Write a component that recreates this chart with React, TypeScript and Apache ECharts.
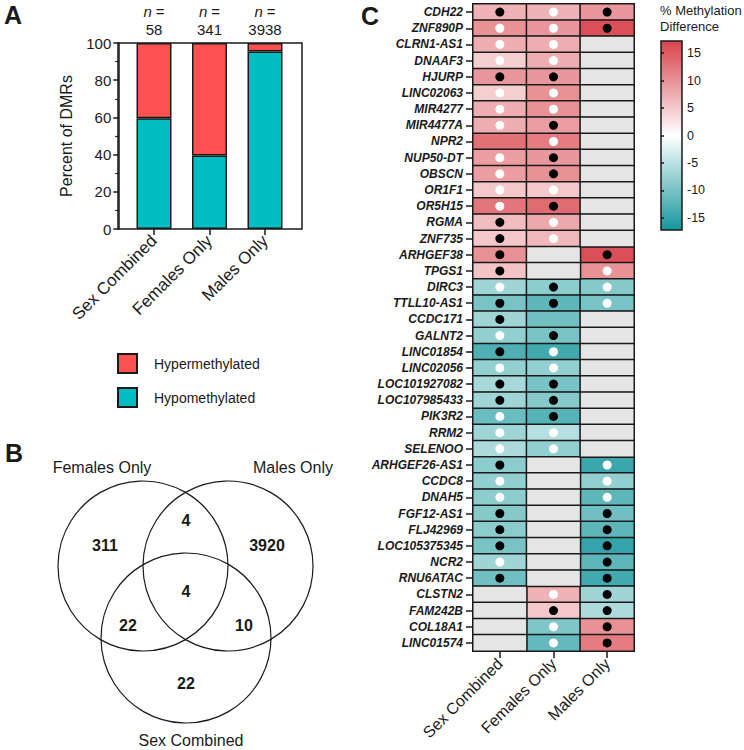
import React, { useEffect, useRef } from 'react';
import * as echarts from 'echarts';

const FONT = 'Arial, "Liberation Sans", Helvetica, sans-serif';
const INK = '#1a1a1a';
const RED_BAR = '#FF5151';
const TEAL_BAR = '#04BDC3';
const RED_END = '#D8434B';
const TEAL_END = '#15979C';
const NA_COLOR = '#E5E5E5';

// Panel A
const BAR_CATEGORIES = ['Sex Combined', 'Females Only', 'Males Only'];
const BAR_N = [58, 341, 3938];
const HYPO_PCT = [59.5, 39.5, 95.4];
const HYPER_PCT = [40.5, 60.5, 4.6];
const LEGEND_NAMES = ['Hypermethylated', 'Hypomethylated'];

// Panel B
const VENN_SETS = ['Females Only', 'Males Only', 'Sex Combined'];
const VENN_COUNTS = { fOnly: 311, fm: 4, mOnly: 3920, all: 4, fs: 22, ms: 10, sOnly: 22 };

// Panel C
const HEAT_COLUMNS = ['Sex Combined', 'Females Only', 'Males Only'];
const GENES = ['CDH22', 'ZNF890P', 'CLRN1-AS1', 'DNAAF3', 'HJURP', 'LINC02063', 'MIR4277', 'MIR4477A', 'NPR2', 'NUP50-DT', 'OBSCN', 'OR1F1', 'OR5H15', 'RGMA', 'ZNF735', 'ARHGEF38', 'TPGS1', 'DIRC3', 'TTLL10-AS1', 'CCDC171', 'GALNT2', 'LINC01854', 'LINC02056', 'LOC101927082', 'LOC107985433', 'PIK3R2', 'RRM2', 'SELENOO', 'ARHGEF26-AS1', 'CCDC8', 'DNAH5', 'FGF12-AS1', 'FLJ42969', 'LOC105375345', 'NCR2', 'RNU6ATAC', 'CLSTN2', 'FAM242B', 'COL18A1', 'LINC01574'];
const DIFF_SC = [7, 10, 7.5, 4.5, 9.5, 4.5, 7.5, 7.5, 13, 9, 9, 5, 12.5, 6, 5, 10, 5.5, -7, -10, -7, -8, -13, -8, -6.5, -7, -11, -7, -6, -8.5, -8, -8.5, -9, -8.5, -10, -7, -10.5, null, null, null, null];
const DIFF_FO = [7, 9.5, 7.5, 7.5, 9.5, 10, 10, 9, 12, 9.5, 10, 5, 13.5, 8, 6.5, null, null, -8.5, -12, -10.5, -10, -14, -8, -10, -9, -12.5, -5.5, -8, null, null, null, null, null, null, null, null, 7, 5, -9.5, -11.5];
const DIFF_MO = [9.5, 16, null, null, null, null, null, null, null, null, null, null, null, null, null, 16, 10, -9, -10, null, null, null, null, null, null, null, null, null, -14.5, -8, -12, -10.5, -12, -15, -12, -14, -7, -6, 10, 12];
const DOT_SC = ['B', 'W', 'W', 'W', 'B', 'W', 'W', 'W', '', 'W', 'W', 'W', 'W', 'B', 'B', 'B', 'B', 'W', 'B', 'B', 'W', 'B', 'W', 'B', 'B', 'W', 'W', 'W', 'B', 'W', 'W', 'B', 'B', 'B', 'W', 'B', '', '', '', ''];
const DOT_FO = ['W', 'W', 'W', 'W', 'B', 'W', 'W', 'B', 'W', 'B', 'B', 'W', 'B', 'W', 'W', '', '', 'B', 'B', '', 'B', 'W', 'W', 'B', 'B', 'B', 'W', 'W', '', '', '', '', '', '', '', '', 'W', 'B', 'W', 'W'];
const DOT_MO = ['B', 'B', '', '', '', '', '', '', '', '', '', '', '', '', '', 'B', 'W', 'W', 'W', '', '', '', '', '', '', '', '', '', 'W', 'W', 'W', 'B', 'B', 'B', 'B', 'B', 'B', 'B', 'B', 'B'];
const COLORBAR_MIN = -17.2;
const COLORBAR_MAX = 17.2;
const COLORBAR_TICKS = [-15, -10, -5, 0, 5, 10, 15];

function buildOption() {
  const diffs = [DIFF_SC, DIFF_FO, DIFF_MO];
  const dots = [DOT_SC, DOT_FO, DOT_MO];
  const heatData: any[] = [];
  const naData: any[] = [];
  const dotData: any[] = [];
  diffs.forEach((col, ci) => {
    col.forEach((v, ri) => {
      if (v === null) naData.push([ci, ri, 0]);
      else heatData.push([ci, ri, v]);
      const d = dots[ci][ri];
      if (d) dotData.push({ value: [ci, ri], itemStyle: { color: d === 'B' ? '#000000' : '#ffffff', opacity: 1 } });
    });
  });

  const txt = (text: string, x: number, y: number, font: string, align = 'center', vAlign = 'middle', extra: any = {}) => ({
    type: 'text',
    silent: true,
    style: { text, x, y, font, fill: INK, textAlign: align, textVerticalAlign: vAlign, ...extra },
  });

  const circle = (cx: number, cy: number) => ({
    type: 'circle',
    silent: true,
    shape: { cx, cy, r: 85 },
    style: { fill: 'none', stroke: INK, lineWidth: 1.2 },
  });

  const vennFont = `bold 16px ${FONT}`;
  const labelFont = `16px ${FONT}`;

  return {
    animation: false,
    textStyle: { fontFamily: FONT, color: INK },
    legend: {
      data: LEGEND_NAMES,
      orient: 'vertical',
      left: 117,
      top: 353,
      padding: 0,
      itemWidth: 19,
      itemHeight: 19,
      itemGap: 13,
      icon: 'rect',
      selectedMode: false,
      textStyle: { fontSize: 14, color: INK, fontFamily: FONT, padding: [0, 0, 0, 12] },
    },
    visualMap: [
      {
        show: false,
        seriesIndex: 2,
        dimension: 2,
        min: COLORBAR_MIN,
        max: COLORBAR_MAX,
        inRange: { color: [TEAL_END, '#ffffff', RED_END] },
      },
      {
        show: false,
        seriesIndex: 3,
        dimension: 2,
        min: 0,
        max: 1,
        inRange: { color: [NA_COLOR, NA_COLOR] },
      },
    ],
    grid: [
      { left: 126.25, top: 43, width: 166.5, height: 186 },
      { left: 473, top: 4, width: 161, height: 647 },
      {
        left: 661, top: 41, width: 21, height: 189, show: true,
        borderColor: INK, borderWidth: 1.5,
        backgroundColor: {
          type: 'linear', x: 0, y: 0, x2: 0, y2: 1,
          colorStops: [
            { offset: 0, color: RED_END },
            { offset: 0.5, color: '#ffffff' },
            { offset: 1, color: TEAL_END },
          ],
        },
      },
    ],
    xAxis: [
      {
        gridIndex: 0, type: 'category', data: BAR_CATEGORIES,
        axisLine: { show: false },
        axisTick: { show: true, alignWithLabel: true, length: 6, lineStyle: { color: INK, width: 1.5 } },
        axisLabel: { rotate: 45, fontSize: 17, color: INK, margin: 9, fontFamily: FONT },
      },
      {
        gridIndex: 0, type: 'category', data: BAR_CATEGORIES, position: 'top',
        axisLine: { show: false }, axisTick: { show: false },
        axisLabel: {
          margin: 5, fontSize: 15, color: INK, lineHeight: 18, fontFamily: FONT,
          formatter: (_v: string, i: number) => `{i|n} =\n${BAR_N[i]}`,
          rich: { i: { fontStyle: 'italic', fontSize: 15, color: INK, fontFamily: FONT, lineHeight: 18 } },
        },
      },
      {
        gridIndex: 1, type: 'category', data: HEAT_COLUMNS,
        axisLine: { show: true, lineStyle: { color: INK, width: 2 } },
        axisTick: { show: true, alignWithLabel: true, length: 7, lineStyle: { color: INK, width: 1.5 } },
        axisLabel: { rotate: 45, fontSize: 16, color: INK, margin: 10, fontFamily: FONT },
        splitArea: { show: false },
      },
      { gridIndex: 2, type: 'value', show: false, min: 0, max: 1 },
    ],
    yAxis: [
      {
        gridIndex: 0, type: 'value', min: 0, max: 100, interval: 20, offset: 8,
        name: 'Percent of DMRs', nameLocation: 'middle', nameGap: 44, nameRotate: 90,
        nameTextStyle: { fontSize: 16, color: INK, fontFamily: FONT },
        axisLine: { show: true, lineStyle: { color: INK, width: 1.5 } },
        axisTick: { show: true, length: 5, lineStyle: { color: INK, width: 1.5 } },
        minorTick: { show: true, splitNumber: 2, length: 3, lineStyle: { color: INK, width: 1.2 } },
        splitLine: { show: false },
        axisLabel: { fontSize: 15, color: INK, margin: 7, fontFamily: FONT },
      },
      {
        gridIndex: 1, type: 'category', data: GENES, inverse: true,
        axisLine: { show: true, lineStyle: { color: INK, width: 2 } },
        axisTick: { show: true, alignWithLabel: true, length: 7, lineStyle: { color: INK, width: 1.5 } },
        axisLabel: { fontSize: 12, fontWeight: 'bold', fontStyle: 'italic', color: INK, margin: 10, fontFamily: FONT, interval: 0 },
        splitArea: { show: false },
      },
      {
        gridIndex: 2, type: 'value', position: 'right', min: COLORBAR_MIN, max: COLORBAR_MAX,
        axisLine: { show: false },
        axisTick: { show: true, inside: false, length: 3, customValues: COLORBAR_TICKS, lineStyle: { color: INK, width: 1.5 } },
        axisLabel: { customValues: COLORBAR_TICKS, fontSize: 12.5, color: INK, margin: 5, fontFamily: FONT },
        splitLine: { show: false },
      },
    ],
    series: [
      {
        name: 'Hypomethylated', type: 'bar', stack: 'pct', xAxisIndex: 0, yAxisIndex: 0,
        barWidth: 35, data: HYPO_PCT,
        itemStyle: { color: TEAL_BAR, borderColor: INK, borderWidth: 1.5 },
      },
      {
        name: 'Hypermethylated', type: 'bar', stack: 'pct', xAxisIndex: 0, yAxisIndex: 0,
        barWidth: 35, data: HYPER_PCT,
        itemStyle: { color: RED_BAR, borderColor: INK, borderWidth: 1.5 },
      },
      {
        name: 'diff', type: 'heatmap', xAxisIndex: 2, yAxisIndex: 1, data: heatData,
        itemStyle: { borderColor: INK, borderWidth: 1.5 },
        emphasis: { disabled: true },
      },
      {
        name: 'na', type: 'heatmap', xAxisIndex: 2, yAxisIndex: 1, data: naData,
        itemStyle: { borderColor: INK, borderWidth: 1.5 },
        emphasis: { disabled: true },
      },
      {
        name: 'dots', type: 'scatter', xAxisIndex: 2, yAxisIndex: 1, data: dotData,
        symbol: 'circle', symbolSize: 9, silent: true, z: 5,
        itemStyle: { opacity: 1 },
      },
    ],
    graphic: [
      {
        type: 'rect', silent: true, z: 10,
        shape: { x: 118, y: 43, width: 184, height: 186 },
        style: { fill: 'none', stroke: INK, lineWidth: 1.5 },
      },
      txt('A', 4, 2, `bold 25px ${FONT}`, 'left', 'top'),
      txt('B', 5, 440, `bold 25px ${FONT}`, 'left', 'top'),
      txt('C', 361, 3, `bold 25px ${FONT}`, 'left', 'top'),
      txt('% Methylation\nDifference', 660, 2, `13px ${FONT}`, 'left', 'top', { lineHeight: 16 }),
      circle(143, 566),
      circle(228, 566),
      circle(186, 638),
      txt(VENN_SETS[0], 102, 467, labelFont),
      txt(VENN_SETS[1], 293, 467, labelFont),
      txt(VENN_SETS[2], 191, 740, labelFont),
      txt(String(VENN_COUNTS.fOnly), 105, 545, vennFont),
      txt(String(VENN_COUNTS.fm), 186, 520, vennFont),
      txt(String(VENN_COUNTS.mOnly), 267, 545, vennFont),
      txt(String(VENN_COUNTS.all), 186, 591, vennFont),
      txt(String(VENN_COUNTS.fs), 128, 625, vennFont),
      txt(String(VENN_COUNTS.ms), 244, 625, vennFont),
      txt(String(VENN_COUNTS.sOnly), 186, 683, vennFont),
    ],
  };
}

export default function App() {
  const ref = useRef<HTMLDivElement>(null);
  useEffect(() => {
    if (!ref.current) return;
    const chart = echarts.init(ref.current, null, { renderer: 'svg' });
    chart.setOption(buildOption() as any);
    return () => chart.dispose();
  }, []);
  return (
    <div
      ref={ref}
      style={{ position: 'fixed', left: 0, top: 0, width: 744, height: 750, background: '#ffffff' }}
    />
  );
}
